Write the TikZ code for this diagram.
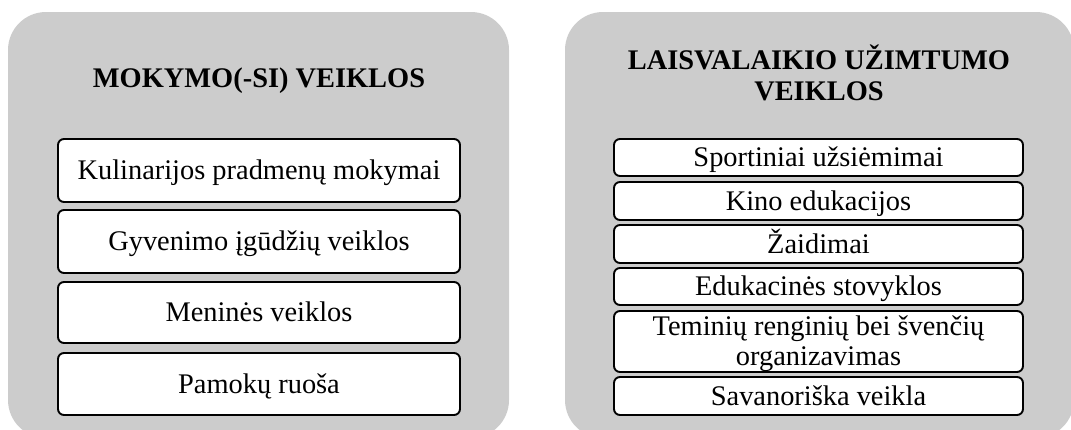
\documentclass[tikz,border=0pt]{standalone}
\usepackage{fontspec}
\setmainfont{Liberation Serif}
\begin{document}
\begin{tikzpicture}[x=1pt,y=-1pt,
  panel/.style={fill=panelgrey, draw=none, rounded corners=38pt},
  itembox/.style={draw=black, line width=1.9pt, rounded corners=6pt, fill=white,
    inner sep=0pt, align=center, text depth=2pt,
    font=\fontsize{28.4}{30.5}\selectfont},
  titletext/.style={align=center, inner sep=0pt, anchor=base,
    font=\fontsize{28.4}{31}\selectfont\bfseries}]
\definecolor{panelgrey}{HTML}{CCCCCC}
\useasboundingbox (0,0) rectangle (1071,429);
\clip (0,0) rectangle (1071,429);
% panels
\path[panel] (8,12) rectangle (509,438);
\path[panel] (565,12) rectangle (1074,438);
% titles
\node[titletext] (t1) at (259,87) {MOKYMO(-SI) VEIKLOS};
\node[titletext] (t2) at (819,100) {LAISVALAIKIO UŽIMTUMO\\VEIKLOS};
% left boxes
\begin{scope}[every node/.style={itembox, minimum width=402pt, text height=20pt}]
\node[minimum height=63pt] (l1) at (259,170.5) {Kulinarijos pradmenų mokymai};
\node[minimum height=63pt] (l2) at (259,241.5) {Gyvenimo įgūdžių veiklos};
\node[minimum height=61pt] (l3) at (259,312.5) {Meninės veiklos};
\node[minimum height=62pt] (l4) at (259,384) {Pamokų ruoša};
\end{scope}
% right boxes
\begin{scope}[every node/.style={itembox, minimum width=409pt}]
\node[minimum height=37pt, text height=20pt] (r1) at (818.5,157.5) {Sportiniai užsiėmimai};
\node[minimum height=38pt, text height=20pt] (r2) at (818.5,201) {Kino edukacijos};
\node[minimum height=38pt, text height=20pt] (r3) at (818.5,244) {Žaidimai};
\node[minimum height=37pt, text height=20pt] (r4) at (818.5,286.5) {Edukacinės stovyklos};
\node[minimum height=61pt] (r5) at (818.5,341.5) {Teminių renginių bei švenčių\\organizavimas};
\node[minimum height=38pt, text height=20pt] (r6) at (818.5,396) {Savanoriška veikla};
\end{scope}
\end{tikzpicture}
\end{document}
